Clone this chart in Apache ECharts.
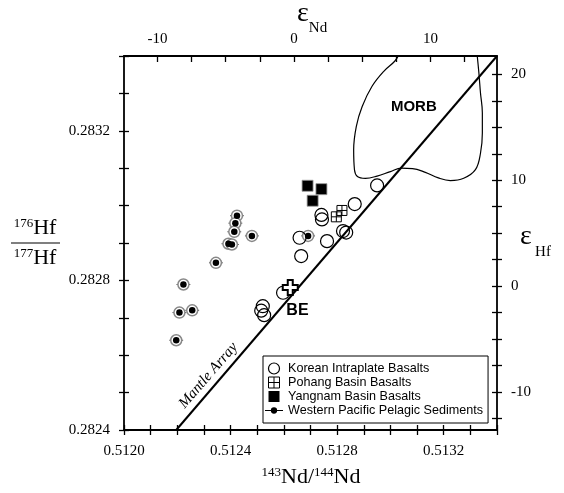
<!DOCTYPE html>
<html lang="en">
<head>
<meta charset="UTF-8">
<title>Nd-Hf isotopes</title>
<script src="https://cdn.jsdelivr.net/npm/echarts@6/dist/echarts.min.js"></script>
<style>
  html, body { margin: 0; padding: 0; background: #fff; }
  #main { width: 564px; height: 493px; }
</style>
</head>
<body>
<div id="main"></div>
<script>
// CHUR reference values for the epsilon axes
var ndChur = 0.512638;
var hfChur = 0.282785;

var xMin = 0.5120, xMax = 0.5134;
var yMin = 0.2824, yMax = 0.2834;

// epsilon tick marks / labels
var epsNdTicks = [-10, -7.5, -5, -2.5, 0, 2.5, 5, 7.5, 10, 12.5];
var epsNdLabels = [-10, 0, 10];
var epsHfTicks = [-12.5, -10, -7.5, -5, -2.5, 0, 2.5, 5, 7.5, 10, 12.5, 15, 17.5, 20];
var epsHfLabels = [-10, 0, 10, 20];

// [143Nd/144Nd, 176Hf/177Hf]
var koreanBasalts = [
  [0.512950, 0.283054], [0.512866, 0.283004], [0.512741, 0.282975], [0.512743, 0.282963],
  [0.512659, 0.282914], [0.512762, 0.282905], [0.512822, 0.282932], [0.512834, 0.282928],
  [0.512665, 0.282865], [0.512597, 0.282767], [0.512521, 0.282731], [0.512515, 0.282719],
  [0.512526, 0.282707]
];
var pohangBasalts = [[0.512797, 0.282970], [0.512818, 0.282987]];
var yangnamBasalts = [[0.512689, 0.283053], [0.512741, 0.283044], [0.512708, 0.283013]];
var pelagicSediments = [
  [0.512424, 0.282973], [0.512418, 0.282953], [0.512414, 0.282930], [0.512480, 0.282919],
  [0.512392, 0.282898], [0.512405, 0.282896], [0.512345, 0.282847], [0.512223, 0.282789],
  [0.512208, 0.282714], [0.512256, 0.282720], [0.512196, 0.282640], [0.512691, 0.282919]
];
var sedimentNdErr = [0.000026, 0.000026, 0.000026, 0.000026, 0.000026, 0.000026,
  0.000026, 0.000026, 0.000026, 0.000026, 0.000026, 0.000026];
var bulkEarth = [[0.512624, 0.282781]];

var mantleArray = [[0.512196, 0.2824], [0.5134, 0.2834]];
var morbField = [
  [0.513034, 0.283406], [0.513016, 0.283386], [0.512975, 0.283359], [0.512931, 0.283319],
  [0.512894, 0.283265], [0.512872, 0.283212], [0.512862, 0.283149], [0.512865, 0.283096],
  [0.512876, 0.283078], [0.512906, 0.283073], [0.512950, 0.283079], [0.513000, 0.283091],
  [0.513041, 0.283100], [0.513083, 0.283099], [0.513131, 0.283089], [0.513180, 0.283074],
  [0.513225, 0.283067], [0.513275, 0.283073], [0.513319, 0.283096], [0.513338, 0.283140],
  [0.513345, 0.283194], [0.513345, 0.283248], [0.513338, 0.283301], [0.513332, 0.283355],
  [0.513325, 0.283406]
];

function epsNd(v) { return (v / ndChur - 1) * 1e4; }
function epsHf(v) { return (v / hfChur - 1) * 1e4; }

var serif = 'Liberation Serif';
var sans = 'Liberation Sans';

function everyFourth(v) {
  var n = Math.round(v * 1e4);
  return n % 4 === 0 ? (n / 1e4).toFixed(4) : '';
}

var lineStyle = { color: '#000', width: 1.8 };
var tickStyle = { color: '#000', width: 1.3 };
var noLine = { show: false, onZero: false };
var axisLine = { onZero: false, lineStyle: lineStyle };

var squarePlus = 'path://M0,0H10V10H0Z M5,0V10 M0,5H10';
var square = 'path://M0,0H10V10H0Z';

var myChart = echarts.init(document.getElementById('main'));

var option = {
  animation: false,
  grid: { left: 124, right: 67, top: 56, bottom: 63 },
  legend: {
    orient: 'vertical',
    left: 263, top: 356,
    padding: [6, 5, 6, 2],
    itemGap: 1,
    itemWidth: 18, itemHeight: 11,
    borderColor: '#000', borderWidth: 1,
    backgroundColor: '#fff',
    textStyle: { fontFamily: sans, fontSize: 12.6, color: '#000' },
    data: [
      { name: 'Korean Intraplate Basalts', icon: 'circle',
        itemStyle: { color: 'rgba(255,255,255,0)', borderColor: '#000', borderWidth: 1.2 } },
      { name: 'Pohang Basin Basalts', icon: squarePlus,
        itemStyle: { color: 'rgba(255,255,255,0)', borderColor: '#000', borderWidth: 1 } },
      { name: 'Yangnam Basin Basalts', icon: square,
        itemStyle: { color: '#000', borderWidth: 0 } },
      { name: 'Western Pacific Pelagic Sediments',
        icon: 'path://M0,4.4H20V5.6H0Z M6.5,5a3.5,3.5 0 1,1 7,0a3.5,3.5 0 1,1 -7,0Z',
        itemStyle: { color: '#000', borderWidth: 0 } }
    ]
  },
  xAxis: [
    {
      type: 'value', position: 'bottom', min: xMin, max: xMax, interval: 0.0001,
      axisLine: axisLine,
      axisTick: { inside: false, length: 5, lineStyle: tickStyle },
      axisLabel: { formatter: everyFourth, margin: 14, fontFamily: serif, fontSize: 15, color: '#000' },
      splitLine: { show: false }
    },
    {
      type: 'value', position: 'bottom', min: xMin, max: xMax, interval: 0.0001,
      axisLine: noLine,
      axisTick: { inside: true, length: 5, lineStyle: tickStyle },
      axisLabel: { show: false },
      splitLine: { show: false }
    },
    {
      type: 'value', position: 'top', min: epsNd(xMin), max: epsNd(xMax),
      axisLine: axisLine,
      axisTick: { inside: true, length: 6, lineStyle: tickStyle, customValues: epsNdTicks },
      axisLabel: { customValues: epsNdLabels, formatter: function (v) { return String(v); },
        margin: 9, fontFamily: serif, fontSize: 15, color: '#000' },
      splitLine: { show: false }
    }
  ],
  yAxis: [
    {
      type: 'value', position: 'left', min: yMin, max: yMax, interval: 0.0001,
      axisLine: axisLine,
      axisTick: { inside: false, length: 5, lineStyle: tickStyle },
      axisLabel: { formatter: everyFourth, margin: 14, fontFamily: serif, fontSize: 15, color: '#000' },
      splitLine: { show: false }
    },
    {
      type: 'value', position: 'left', min: yMin, max: yMax, interval: 0.0001,
      axisLine: noLine,
      axisTick: { inside: true, length: 5, lineStyle: tickStyle },
      axisLabel: { show: false },
      splitLine: { show: false }
    },
    {
      type: 'value', position: 'right', min: epsHf(yMin), max: epsHf(yMax),
      axisLine: axisLine,
      axisTick: { inside: false, length: 5, lineStyle: tickStyle, customValues: epsHfTicks },
      axisLabel: { customValues: epsHfLabels, formatter: function (v) { return String(v); },
        margin: 14, fontFamily: serif, fontSize: 15, color: '#000' },
      splitLine: { show: false }
    },
    {
      type: 'value', position: 'right', min: epsHf(yMin), max: epsHf(yMax),
      axisLine: noLine,
      axisTick: { inside: true, length: 5, lineStyle: tickStyle, customValues: epsHfTicks },
      axisLabel: { show: false },
      splitLine: { show: false }
    }
  ],
  graphic: { elements: [
    { type: 'text', x: 303, y: 14, style: { text: 'ε', font: '28px ' + serif, fill: '#000', align: 'center', verticalAlign: 'middle' } },
    { type: 'text', x: 318, y: 28, style: { text: 'Nd', font: '15px ' + serif, fill: '#000', align: 'center', verticalAlign: 'middle' } },
    { type: 'text', x: 526, y: 237, style: { text: 'ε', font: '28px ' + serif, fill: '#000', align: 'center', verticalAlign: 'middle' } },
    { type: 'text', x: 543, y: 252, style: { text: 'Hf', font: '15px ' + serif, fill: '#000', align: 'center', verticalAlign: 'middle' } },
    { type: 'text', x: 311, y: 477, style: {
      text: '{s|143}{b|Nd/}{s|144}{b|Nd}', align: 'center', verticalAlign: 'middle', fill: '#000',
      rich: { s: { fontFamily: serif, fontSize: 13, verticalAlign: 'top', lineHeight: 22 },
              b: { fontFamily: serif, fontSize: 22, verticalAlign: 'bottom', lineHeight: 22 } } } },
    { type: 'text', x: 35, y: 228, style: {
      text: '{s|176}{b|Hf}', align: 'center', verticalAlign: 'middle', fill: '#000',
      rich: { s: { fontFamily: serif, fontSize: 13, verticalAlign: 'top', lineHeight: 22 },
              b: { fontFamily: serif, fontSize: 22, verticalAlign: 'bottom', lineHeight: 22 } } } },
    { type: 'line', shape: { x1: 11, y1: 243, x2: 60, y2: 243 }, style: { stroke: '#000', lineWidth: 1.2 } },
    { type: 'text', x: 35, y: 258, style: {
      text: '{s|177}{b|Hf}', align: 'center', verticalAlign: 'middle', fill: '#000',
      rich: { s: { fontFamily: serif, fontSize: 13, verticalAlign: 'top', lineHeight: 22 },
              b: { fontFamily: serif, fontSize: 22, verticalAlign: 'bottom', lineHeight: 22 } } } }
  ] },
  series: [
    {
      name: 'Mantle Array line', type: 'line', data: mantleArray, symbol: 'none', silent: true,
      lineStyle: { color: '#000', width: 2 }, z: 1
    },
    {
      name: 'MORB field', type: 'line', data: morbField, symbol: 'none', silent: true, smooth: 0.4,
      lineStyle: { color: '#000', width: 1.2 }, z: 1
    },
    {
      name: 'sediment error', type: 'custom', z: 2,
      data: pelagicSediments.map(function (p, i) { return [p[0], p[1], sedimentNdErr[i]]; }),
      encode: { x: 0, y: 1 },
      renderItem: function (params, api) {
        var a = api.coord([api.value(0) - api.value(2), api.value(1)]);
        var b = api.coord([api.value(0) + api.value(2), api.value(1)]);
        return { type: 'line', shape: { x1: a[0], y1: a[1], x2: b[0], y2: b[1] },
          style: { stroke: '#555', lineWidth: 1 } };
      }
    },
    {
      name: 'sediment ring', type: 'scatter', data: pelagicSediments, symbol: 'circle', symbolSize: 11,
      itemStyle: { color: '#fff', borderColor: '#888', borderWidth: 1.5, opacity: 1 }, z: 3
    },
    {
      name: 'Western Pacific Pelagic Sediments', type: 'scatter', data: pelagicSediments,
      symbol: 'circle', symbolSize: 6.5, itemStyle: { color: '#000', opacity: 1 }, z: 4
    },
    {
      name: 'Korean Intraplate Basalts', type: 'scatter', data: koreanBasalts, symbol: 'circle',
      symbolSize: 13, itemStyle: { color: 'rgba(255,255,255,0)', borderColor: '#000', borderWidth: 1.2, opacity: 1 }, z: 5
    },
    {
      name: 'Pohang Basin Basalts', type: 'scatter', data: pohangBasalts,
      symbol: squarePlus, symbolSize: 10,
      itemStyle: { color: 'rgba(255,255,255,0)', borderColor: '#000', borderWidth: 1, opacity: 1 }, z: 5
    },
    {
      name: 'Yangnam Basin Basalts', type: 'scatter', data: yangnamBasalts, symbol: square,
      symbolSize: 11, itemStyle: { color: '#000', borderColor: '#999', borderWidth: 0.8, opacity: 1 }, z: 5
    },
    {
      name: 'BE', type: 'scatter', data: bulkEarth,
      symbol: 'path://M4,0H8V4H12V8H8V12H4V8H0V4H4Z', symbolSize: 15,
      itemStyle: { color: '#fff', borderColor: '#000', borderWidth: 2, opacity: 1 }, z: 6
    },
    {
      name: 'annotations', type: 'scatter', symbolSize: 1, silent: true,
      itemStyle: { color: 'rgba(0,0,0,0)', opacity: 1 }, z: 7,
      data: [
        { value: [0.513088, 0.283263], label: { show: true, position: 'inside', formatter: 'MORB',
          fontFamily: sans, fontWeight: 'bold', fontSize: 15, color: '#000' } },
        { value: [0.512651, 0.282720], label: { show: true, position: 'inside', formatter: 'BE',
          fontFamily: sans, fontWeight: 'bold', fontSize: 16, color: '#000' } },
        { value: [0.512317, 0.282546], label: { show: true, position: 'inside', formatter: 'Mantle Array',
          rotate: 49, fontFamily: serif, fontStyle: 'italic', fontSize: 15, color: '#000' } }
      ]
    }
  ]
};

myChart.setOption(option);
</script>
</body>
</html>
